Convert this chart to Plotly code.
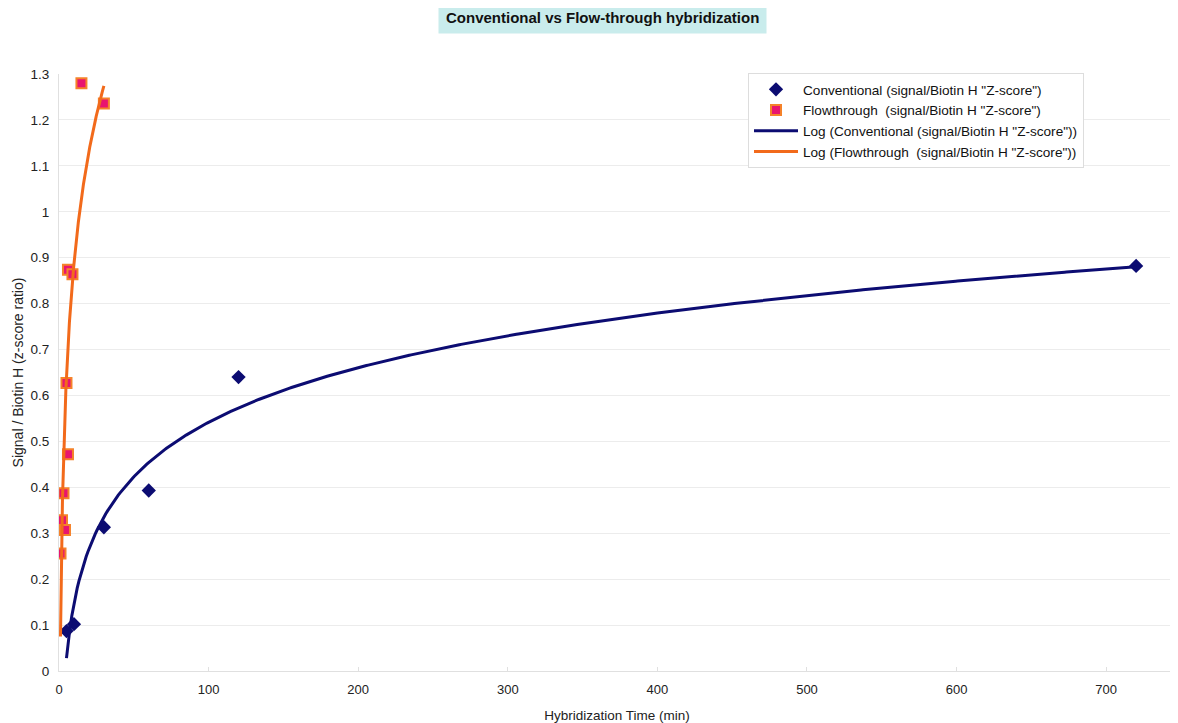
import numpy as np
import plotly.graph_objects as go

# Data
conv_time = [5, 10, 30, 60, 120, 720]
conv_ratio = [0.087, 0.102, 0.313, 0.393, 0.640, 0.882]

flow_time = [1, 2, 3, 4, 5, 6, 6, 9, 15, 30]
flow_ratio = [0.256, 0.328, 0.387, 0.307, 0.627, 0.472, 0.874, 0.864, 1.280, 1.236]

x_ticks = [0, 100, 200, 300, 400, 500, 600, 700]

conv_name = 'Conventional (signal/Biotin H "Z-score")'
flow_name = 'Flowthrough  (signal/Biotin H "Z-score")'

NAVY = "#0c0c72"
ORANGE = "#f26a1b"
PINK = "#e8156f"


def log_fit(x, y):
    x = np.asarray(x, float)
    a, b = np.polyfit(np.log(x), np.asarray(y, float), 1)
    xs = np.linspace(x.min(), x.max(), 600)
    return xs, a * np.log(xs) + b


cx, cy = log_fit(conv_time, conv_ratio)
fx, fy = log_fit(flow_time, flow_ratio)

fig = go.Figure()
fig.add_trace(go.Scatter(
    x=conv_time, y=conv_ratio, mode="markers", name=conv_name,
    marker=dict(symbol="diamond", size=11, color=NAVY)))
fig.add_trace(go.Scatter(
    x=flow_time, y=flow_ratio, mode="markers", name=flow_name,
    marker=dict(symbol="square", size=10, color=PINK,
                line=dict(color="#f5822a", width=2))))
fig.add_trace(go.Scatter(
    x=cx, y=cy, mode="lines", name='Log (Conventional (signal/Biotin H "Z-score"))',
    line=dict(color=NAVY, width=3)))
fig.add_trace(go.Scatter(
    x=fx, y=fy, mode="lines", name='Log (Flowthrough  (signal/Biotin H "Z-score"))',
    line=dict(color=ORANGE, width=3)))

# page body has an 8px margin, so the figure is sized/positioned to compensate
W, H = 1170, 715
L, T, R, B = 51, 66, 3, 52
pw, ph = W - L - R, H - T - B

fig.update_layout(
    width=W, height=H,
    margin=dict(l=L, r=R, t=T, b=B, autoexpand=False),
    paper_bgcolor="white", plot_bgcolor="white",
    font=dict(family="Liberation Sans, Arial, sans-serif", size=13, color="#222222"),
    showlegend=True,
    legend=dict(x=(748 - 59) / pw, y=1.0 + 1 / ph, xanchor="left", yanchor="top",
                bgcolor="white", bordercolor="#dddddd", borderwidth=1,
                font=dict(size=13.6, color="#111111"),
                tracegroupgap=0, itemwidth=44),
    annotations=[dict(
        text="<b>Conventional vs Flow-through hybridization</b>",
        x=(602 - 59) / pw, y=1 + (74 - 18) / ph, xref="paper", yref="paper",
        xanchor="center", yanchor="middle", showarrow=False,
        font=dict(size=15, color="#111111"),
        bgcolor="#c9ecec", borderpad=7)],
)

fig.update_xaxes(
    range=[0, 746], tickvals=x_ticks,
    showgrid=False, zeroline=False, showline=True, linecolor="#e0e0e0",
    ticks="inside", ticklen=4, tickcolor="#e0e0e0",
    ticklabelstandoff=6,
    tickfont=dict(size=13, color="#222222"),
    title=dict(text="Hybridization Time (min)", font=dict(size=13.5, color="#222222"), standoff=15))
fig.update_yaxes(
    range=[0, 1.3], dtick=0.1, tick0=0,
    showgrid=True, gridcolor="#ececec", zeroline=False,
    showline=True, linecolor="#e0e0e0",
    ticklabelstandoff=6,
    tickfont=dict(size=13.5, color="#222222"),
    title=dict(text="Signal / Biotin H (z-score ratio)", font=dict(size=14, color="#222222"), standoff=3))

fig.write_html("out.html")
